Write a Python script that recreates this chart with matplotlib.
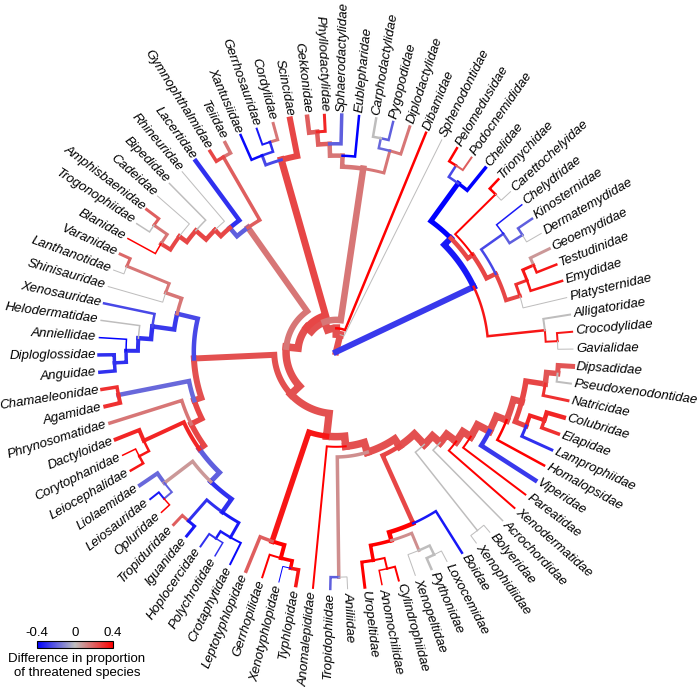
import numpy as np
import matplotlib
matplotlib.use("Agg")
import matplotlib.pyplot as plt
from matplotlib.colors import LinearSegmentedColormap, Normalize
from matplotlib.cm import ScalarMappable

# ---------------- data ----------------
tips = ["Sphenodontidae","Dibamidae","Diplodactylidae","Pygopodidae","Carphodactylidae",
        "Eublepharidae","Sphaerodactylidae","Phyllodactylidae","Gekkonidae","Scincidae",
        "Cordylidae","Gerrhosauridae","Xantusiidae","Teiidae","Gymnophthalmidae","Lacertidae",
        "Rhineuridae","Bipedidae","Cadeidae","Amphisbaenidae","Trogonophiidae","Blanidae",
        "Varanidae","Lanthanotidae","Shinisauridae","Xenosauridae","Helodermatidae",
        "Anniellidae","Diploglossidae","Anguidae","Chamaeleonidae","Agamidae",
        "Phrynosomatidae","Dactyloidae","Corytophanidae","Leiocephalidae","Liolaemidae",
        "Leiosauridae","Opluridae","Tropiduridae","Iguanidae","Hoplocercidae",
        "Polychrotidae","Crotaphytidae","Leptotyphlopidae","Gerrhopilidae",
        "Xenotyphlopidae","Typhlopidae","Anomalepididae","Tropidophiidae","Aniliidae",
        "Uropeltidae","Anomochilidae","Cylindrophiidae","Xenopeltidae","Pythonidae",
        "Loxocemidae","Boidae","Xenophidiidae","Bolyeridae","Acrochordidae",
        "Xenodermatidae","Pareatidae","Viperidae","Homalopsidae","Lamprophiidae",
        "Elapidae","Colubridae","Natricidae","Pseudoxenodontidae","Dipsadidae",
        "Gavialidae","Crocodylidae","Alligatoridae","Platysternidae","Emydidae",
        "Testudinidae","Geoemydidae","Dermatemydidae","Kinosternidae","Chelydridae",
        "Carettochelyidae","Trionychidae","Chelidae","Podocnemididae","Pelomedusidae"]

tip_value = [0, 0.4, 0.15, -0.2, 0, -0.4, -0.2, 0.32, 0.2, 0.25,
             0.15, -0.35, -0.38, 0.15, 0.25, -0.3, 0, 0, 0, 0.2, 0, 0.4,
             0.18, 0, 0, -0.25, 0, -0.4, -0.3, -0.3, 0.3, 0.3,
             0.15, 0.32, 0.4, 0.35, -0.18, -0.35, 0.4, 0.2, -0.35, -0.3,
             -0.3, -0.38, 0.2, 0.4, -0.4, 0.35, 0.4, -0.2, 0,
             0.4, 0.4, 0.4, 0, 0, 0, -0.35, 0, 0, 0,
             0.4, 0.4, -0.28, 0.4, -0.3, 0.3, 0.32, 0.3, 0, 0.22,
             0, 0.35, 0, 0, 0.35, 0.35, 0.08, 0, -0.2, -0.35,
             0, 0.4, -0.4, 0.2, 0.4]

tip_width = [1, 2.5, 3, 2.5, 2.5, 2.5, 3.5, 3, 4.5, 6,
             3, 2, 2.5, 3.5, 3.5, 4.5, 1, 1.5, 1, 3, 1.5, 1.5,
             3, 1, 1, 2.5, 1.5, 1.5, 3.5, 3.5, 3.5, 4,
             3.5, 4, 1.5, 2.5, 4, 2, 1.5, 3, 3, 2,
             1.5, 2, 3.5, 2, 1, 3.5, 2, 2.5, 1,
             3, 1.5, 2, 1, 2.5, 1, 2.5, 1, 1, 1.5,
             2, 2, 4.5, 2.5, 3, 3.5, 4.5, 3, 2, 5,
             1, 2, 2, 1, 2.5, 2.5, 3, 1, 2.5, 1.5,
             1, 2.5, 3.5, 2, 2.5]

node_names = ["ROOT","LEPI","SQUA","BIFU","GEKK","PYGO","PYCA","GEKO","GKM","PHGK",
              "UNID","SCIF","CGX","CG","EPIS","LATE","TEII","LACO","AMPH","AM2","AM3",
              "AM4","AM5","TOXI","AI","ANGU","PALE","VALA","NEOA","NE2","NE3","NE4",
              "IGUA","ACRO","PLEU","P1","DCL","CL","P2","LLO","LO","BLUE","TI","HPC","HP",
              "SERP","SCOL","TYPH","XT","ANAL","ALET","AMER","AFRO","HENO","UP","UROP",
              "AC","PYTH","PL","AF2","BX","CAEN","COLS","CO2","CO3","CO4","CO5","LEC",
              "EC","NPD","PD","ARCH","CROC","GC","TEST","CRYP","DURO","TESO","ET","TG",
              "CHEL","KD","TRIO","PLEU2","PELO"]

node_children = [("LEPI","ARCH"),("Sphenodontidae","SQUA"),("Dibamidae","BIFU"),
    ("GEKK","UNID"),("PYGO","GEKO"),("Diplodactylidae","PYCA"),
    ("Pygopodidae","Carphodactylidae"),("Eublepharidae","GKM"),
    ("Sphaerodactylidae","PHGK"),("Phyllodactylidae","Gekkonidae"),
    ("SCIF","EPIS"),("Scincidae","CGX"),("CG","Xantusiidae"),
    ("Cordylidae","Gerrhosauridae"),("LATE","TOXI"),("TEII","LACO"),
    ("Teiidae","Gymnophthalmidae"),("Lacertidae","AMPH"),("Rhineuridae","AM2"),
    ("Bipedidae","AM3"),("Cadeidae","AM4"),("AM5","Blanidae"),
    ("Amphisbaenidae","Trogonophiidae"),("AI","SERP"),("ANGU","IGUA"),
    ("PALE","NEOA"),("VALA","Shinisauridae"),("Varanidae","Lanthanotidae"),
    ("Xenosauridae","NE2"),("Helodermatidae","NE3"),("Anniellidae","NE4"),
    ("Diploglossidae","Anguidae"),("ACRO","PLEU"),("Chamaeleonidae","Agamidae"),
    ("Phrynosomatidae","P1"),("DCL","P2"),("Dactyloidae","CL"),
    ("Corytophanidae","Leiocephalidae"),("LLO","BLUE"),("Liolaemidae","LO"),
    ("Leiosauridae","Opluridae"),("TI","HPC"),("Tropiduridae","Iguanidae"),
    ("HP","Crotaphytidae"),("Hoplocercidae","Polychrotidae"),
    ("SCOL","ANAL"),("Leptotyphlopidae","TYPH"),("Gerrhopilidae","XT"),
    ("Xenotyphlopidae","Typhlopidae"),("Anomalepididae","ALET"),("AMER","AFRO"),
    ("Tropidophiidae","Aniliidae"),("HENO","AF2"),("UP","Boidae"),
    ("UROP","PYTH"),("Uropeltidae","AC"),("Anomochilidae","Cylindrophiidae"),
    ("Xenopeltidae","PL"),("Pythonidae","Loxocemidae"),("BX","CAEN"),
    ("Xenophidiidae","Bolyeridae"),("Acrochordidae","COLS"),("Xenodermatidae","CO2"),
    ("Pareatidae","CO3"),("Viperidae","CO4"),("Homalopsidae","CO5"),("LEC","NPD"),
    ("Lamprophiidae","EC"),("Elapidae","Colubridae"),("Natricidae","PD"),
    ("Pseudoxenodontidae","Dipsadidae"),("CROC","TEST"),("GC","Alligatoridae"),
    ("Gavialidae","Crocodylidae"),("CRYP","PLEU2"),("DURO","TRIO"),("TESO","CHEL"),
    ("Platysternidae","ET"),("Emydidae","TG"),("Testudinidae","Geoemydidae"),
    ("KD","Chelydridae"),("Dermatemydidae","Kinosternidae"),
    ("Carettochelyidae","Trionychidae"),("Chelidae","PELO"),
    ("Podocnemididae","Pelomedusidae")]

# node ages (Myr before present); tips are at 0
node_age = [280, 259, 252, 242, 61, 34, 22, 48, 34, 19,
            235, 44, 32, 20, 221, 100, 14, 87, 77, 61, 50,
            37, 18, 207, 112, 87, 67, 13, 61, 46, 32, 18,
            103, 18, 89, 82, 30, 17, 67, 25, 13, 48, 15, 28, 18,
            180, 44, 28, 19, 168, 156, 14, 146, 58, 48, 30,
            17, 26, 14, 129, 11, 117, 103, 92, 76, 63, 53, 39,
            21, 30, 17, 100, 32, 18, 89, 82, 70, 53, 39, 25,
            38, 20, 15, 34, 18]

node_value = [0, 0.23, 0.23, 0.23, 0.15, 0.15, -0.18, 0.15, 0.15, 0.2,
              0.23, 0.25, -0.25, -0.3, 0.23, 0.15, 0.2, -0.2, 0.25, 0.25, 0.25,
              0.25, 0.15, 0.23, 0.23, -0.25, 0.15, 0.15, -0.28, -0.3, -0.3, -0.3,
              0.23, -0.18, 0.25, 0.25, 0.32, 0.35, -0.2, 0.08, -0.2, -0.3, -0.3, -0.35, -0.35,
              0.23, 0.35, 0.4, 0.4, 0.23, 0.23, 0.1, 0.23, 0.25, 0.4, 0.4,
              0.4, 0.1, 0.0, 0.23, 0.0, 0.23, 0.23, 0.23, 0.23, 0.23, 0.23, 0.25,
              0.32, 0.25, 0.22, -0.28, 0.35, 0.35, -0.35, 0.25, 0.25, 0.25, 0.3, 0.35,
              -0.25, -0.2, 0.4, -0.4, -0.25]

node_width = [0, 6.5, 7.5, 7.5, 6.5, 3, 2.5, 4.5, 4.5, 4.5,
              7.5, 7, 3, 2.5, 7.5, 6, 3.5, 4.5, 4.5, 4.5, 4.5,
              4, 3, 7.5, 6, 4.5, 3.5, 3, 4.5, 4.5, 4, 3.5,
              6, 4.5, 5.5, 5.5, 4, 2.5, 5, 3.5, 2, 4.5, 3, 3, 2.5,
              7.5, 5.5, 4, 3.5, 7.5, 7.5, 3.5, 7.5, 4.5, 4.5, 3.5,
              2, 3, 2.5, 7.5, 1.5, 7.5, 7.5, 7.5, 7.5, 7, 6.5, 5,
              4, 5.5, 5.5, 6, 2.5, 2, 6, 4.5, 4.5, 4, 3, 3,
              2.5, 2.5, 2, 5, 2.5]

cbar_ticks = [-0.4, 0, 0.4]
cbar_title = "Difference in proportion\nof threatened species"

# ---------------- layout ----------------
W, H = 700, 687
CX, CY = 336, 352          # centre of the fan in pixels (from top-left)
R = 237                    # tip radius in pixels
ROOT_AGE = 280.0
THETA0 = 63.5
DTHETA = 360.0 / len(tips)

cmap = LinearSegmentedColormap.from_list(
    "bgr", [(0.0, "#0000ff"), (0.5, "#bebebe"), (1.0, "#ff0000")])
norm = Normalize(-0.4, 0.4)

fig = plt.figure(figsize=(W / 100, H / 100), dpi=100)
ax = fig.add_axes([0, 0, 1, 1])
ax.set_xlim(-CX, W - CX)
ax.set_ylim(-(H - CY), CY)
ax.axis("off")

# build tree
children = {n: c for n, c in zip(node_names, node_children)}
radius = {n: R * (1 - a / ROOT_AGE) for n, a in zip(node_names, node_age)}
value = {n: v for n, v in zip(node_names, node_value)}
width = {n: w for n, w in zip(node_names, node_width)}
angle = {}
for i, t in enumerate(tips):
    angle[t] = THETA0 + i * DTHETA
    radius[t] = R
    value[t] = tip_value[i]
    width[t] = tip_width[i]


def get_angle(n):
    if n not in angle:
        a, b = children[n]
        angle[n] = 0.5 * (get_angle(a) + get_angle(b))
    return angle[n]


get_angle("ROOT")

segments = []


def collect(n):
    if n in children:
        for c in children[n]:
            segments.append((n, c))
            collect(c)


collect("ROOT")
# draw thicker first
segments.sort(key=lambda s: -width[s[1]])
for p, c in segments:
    rp, rc = radius[p], radius[c]
    a0, a1 = np.radians(angle[p]), np.radians(angle[c])
    n = max(2, int(abs(a1 - a0) * rp / 2) + 2)
    th = np.linspace(a0, a1, n)
    xs = list(rp * np.cos(th)) + [rc * np.cos(a1)]
    ys = list(rp * np.sin(th)) + [rc * np.sin(a1)]
    ax.plot(xs, ys, color=cmap(norm(value[c])), lw=width[c] * 0.72,
            solid_joinstyle="miter", solid_capstyle="projecting", zorder=2)

# tip labels
for i, t in enumerate(tips):
    a = angle[t]
    ar = np.radians(a)
    rl = R + 3.5
    x, y = rl * np.cos(ar), rl * np.sin(ar)
    if np.cos(ar) >= 0:
        rot, ha = a, "left"
    else:
        rot, ha = a - 180, "right"
    ax.text(x, y, t, rotation=rot, rotation_mode="anchor", ha=ha, va="center",
            fontsize=9.5, style="italic", family="Liberation Sans", color="black")

# colour bar legend
cax = fig.add_axes([37 / W, 1 - 648 / H, 76 / W, 7 / H])
sm = ScalarMappable(norm=norm, cmap=cmap)
cb = fig.colorbar(sm, cax=cax, orientation="horizontal", ticks=cbar_ticks)
cb.ax.xaxis.set_ticks_position("top")
cb.ax.tick_params(length=0, pad=1.5, labelsize=9.5)
cb.ax.set_xticklabels(["-0.4", "0", "0.4"], family="Liberation Sans")
cb.outline.set_linewidth(0.8)
fig.text(77 / W, 1 - 666 / H, cbar_title, ha="center", va="center",
         fontsize=9.5, family="Liberation Sans", linespacing=1.25)

fig.savefig("out.png", dpi=100)
